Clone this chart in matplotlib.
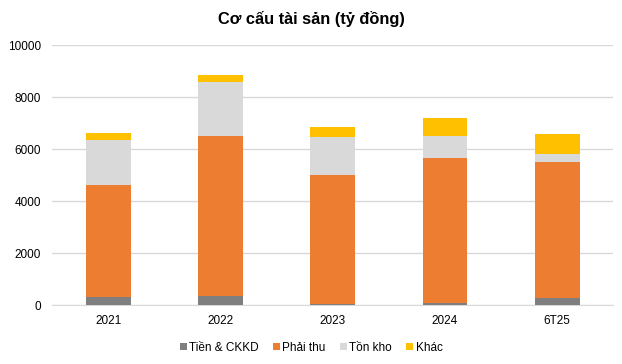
import numpy as np
import matplotlib.pyplot as plt

plt.rcParams['font.family'] = ['Liberation Sans', 'DejaVu Sans']

years = ['2021', '2022', '2023', '2024', '6T25']
tien = [320, 358, 51, 90, 282]
phai_thu = [4302, 6146, 4955, 5569, 5224]
ton_kho = [1729, 2075, 1460, 845, 307]
khac = [269, 269, 384, 692, 768]

series = [('Tiền & CKKD', tien, '#7f7f7f'),
          ('Phải thu', phai_thu, '#ed7d31'),
          ('Tồn kho', ton_kho, '#d9d9d9'),
          ('Khác', khac, '#ffc000')]

fig = plt.figure(figsize=(6.22, 3.64), dpi=100)
ax = fig.add_axes([0.084, 0.162, 0.902, 0.714])

x = np.arange(len(years))
bottom = np.zeros(len(years))
for name, vals, col in series:
    ax.bar(x, vals, 0.4, bottom=bottom, color=col, label=name, zorder=3)
    bottom += np.array(vals)

ax.set_xlim(-0.5, len(years) - 0.5)
ax.set_ylim(0, 10000)
ax.set_yticks(range(0, 10001, 2000))
ax.set_xticks(x)
ax.set_xticklabels(years)
ax.grid(axis='y', color='#d9d9d9', linewidth=1, zorder=0)
for s in ['top', 'right', 'left']:
    ax.spines[s].set_visible(False)
ax.spines['bottom'].set_color('#d9d9d9')
ax.tick_params(length=0, labelsize=8.5, colors='#000000')
ax.tick_params(axis='y', pad=8)
ax.tick_params(axis='x', pad=7)

fig.suptitle('Cơ cấu tài sản (tỷ đồng)', x=0.5, y=0.97, fontsize=11.8, fontweight='bold')
fig.legend(loc='center', bbox_to_anchor=(0.5, 0.045), ncol=4, frameon=False,
           fontsize=8.5, handlelength=0.6, handleheight=0.6, handletextpad=0.2,
           columnspacing=1.2)

fig.savefig('out.png', dpi=100)
